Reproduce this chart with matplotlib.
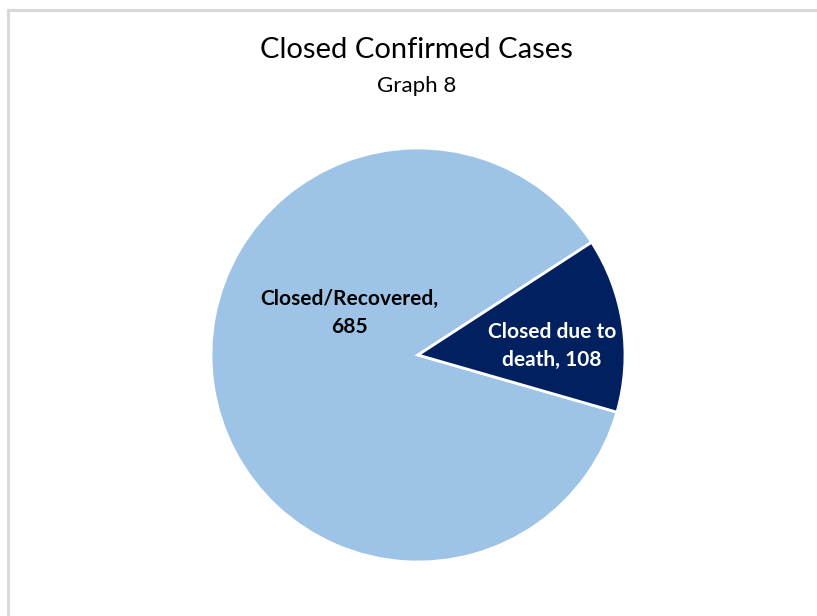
import matplotlib.pyplot as plt
from matplotlib.patches import Rectangle

labels = ["Closed/Recovered,\n685", "Closed due to\ndeath, 108"]
values = [685, 108]
colors = ["#9DC3E6", "#002060"]
label_colors = ["black", "white"]

W, H = 817, 616
fig = plt.figure(figsize=(W / 100, H / 100), dpi=100)
ax = fig.add_axes([0, 0, 1, 1])

wedges, _ = ax.pie(values, colors=colors, startangle=33, counterclock=True,
                   center=(418, H - 355), radius=207,
                   wedgeprops=dict(edgecolor="white", linewidth=2))

# pie() resets the limits, so set them afterwards
ax.set_xlim(0, W)
ax.set_ylim(0, H)
ax.set_aspect("equal")
ax.axis("off")

# chart border (runs off right/bottom edge like the screenshot)
ax.add_patch(Rectangle((8, -20), W + 20, H - 10 + 20, fill=False,
                       edgecolor="#D9D9D9", linewidth=2.2))

font = "Lato"
ax.text(416, H - 50, "Closed Confirmed Cases", ha="center", va="center",
        fontsize=21, family=font)
ax.text(417, H - 86, "Graph 8", ha="center", va="center",
        fontsize=16, family=font)

label_pos = [(349, H - 313), (552, H - 346)]
for lab, (x, y), c in zip(labels, label_pos, label_colors):
    ax.text(x, y, lab, ha="center", va="center", fontsize=15,
            fontweight="bold", color=c, family=font, linespacing=1.45)

fig.savefig("out.png", dpi=100, facecolor="white")
